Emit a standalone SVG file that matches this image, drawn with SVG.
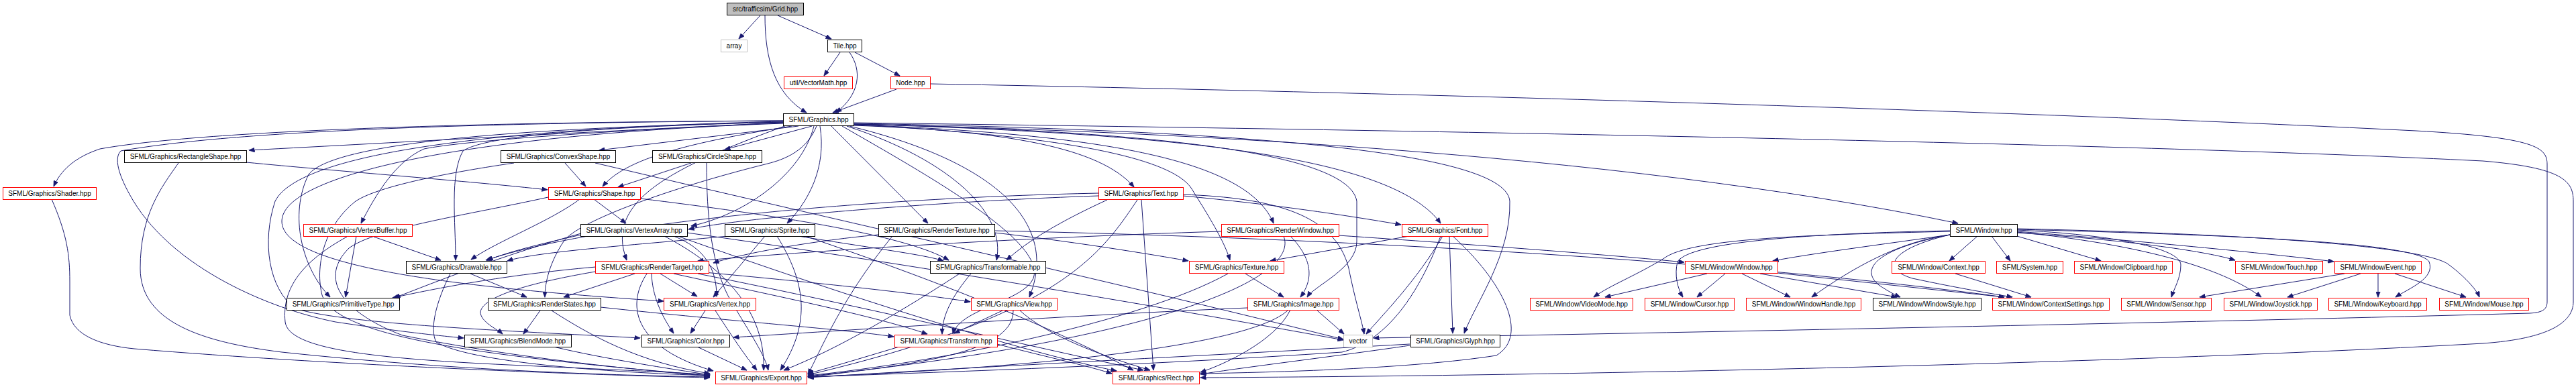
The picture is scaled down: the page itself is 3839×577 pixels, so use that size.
<svg xmlns="http://www.w3.org/2000/svg" width="3839" height="577" viewBox="0 0 3839 577">
<style>
.n rect{fill:#fff;stroke:#000;stroke-width:1}
.n.r rect{stroke:#ff0000}
.n.g rect{stroke:#bfbfbf}
.n.c rect{fill:#bfbfbf}
.n text{font-family:"Liberation Sans",Arial,sans-serif;font-size:10px;text-anchor:middle;fill:#000}
#edges path{fill:none;stroke:#191970;stroke-width:1;marker-end:url(#ah)}
</style>
<defs>
<marker id="ah" markerWidth="9" markerHeight="7" refX="8.5" refY="3.5" orient="auto" markerUnits="userSpaceOnUse"><path d="M0,0 L9,3.5 L0,7 z" fill="#191970" stroke="#191970" stroke-width="0.5"/></marker>
</defs>
<rect width="3839" height="577" fill="#fff"/>
<g id="edges">
<path d="M1133,23 L1101,58"/>
<path d="M1140,23 C1140,90 1155,140 1202,168"/>
<path d="M1159,23 L1239,58"/>
<path d="M1252,78 L1228,113"/>
<path d="M1266,78 C1285,105 1282,140 1246,168"/>
<path d="M1274,78 L1341,113"/>
<path d="M1336,133 L1241,168"/>
<path d="M1386,125 C2200,140 3100,170 3600,195 C3780,205 3796,220 3796,245 L3796,450 C3796,462 3788,466 3770,467 C3300,480 2600,494 2047,504"/>
<path d="M1272,183 C2200,195 3200,215 3700,240 C3820,250 3835,270 3835,300 L3835,450 C3835,480 3800,505 3700,512 C3200,540 2400,560 1789,563"/>
<path d="M1272,185 C1700,195 2400,225 2918,333"/>
<path d="M1272,187 C1500,195 1640,220 1690,279"/>
<path d="M1272,186 C1550,200 1740,230 1775,280 C1800,320 1825,360 1833,388"/>
<path d="M1272,186 C1650,200 1860,240 1898,333"/>
<path d="M1272,185 C1700,195 2010,225 2022,300 L2022,360 C2022,400 1960,425 1948,443"/>
<path d="M1272,185 C1800,200 2080,240 2147,333"/>
<path d="M1272,184 C1900,195 2245,230 2250,300 C2252,380 2200,450 2182,497"/>
<path d="M1238,187 L1383,333"/>
<path d="M1262,188 C1420,240 1500,320 1485,388"/>
<path d="M1266,188 C1480,240 1580,330 1534,443"/>
<path d="M1255,188 C1380,260 1560,360 1540,415 C1525,450 1430,460 1420,498"/>
<path d="M1222,188 C1232,250 1205,300 1173,333"/>
<path d="M1213,188 C1195,260 1110,320 1030,337"/>
<path d="M1210,188 L1080,223"/>
<path d="M1190,188 L893,224"/>
<path d="M1180,188 C1010,215 930,240 898,278"/>
<path d="M1167,183 C900,195 600,212 371,224"/>
<path d="M1167,180 C700,182 300,195 149,222 C110,235 90,255 80,278"/>
<path d="M1167,183 C900,195 690,210 632,222 C590,240 560,290 538,333"/>
<path d="M1167,182 C850,190 720,205 690,225 C670,260 679,330 679,388"/>
<path d="M1167,182 C800,190 500,210 460,260 C430,320 450,400 492,443"/>
<path d="M1217,188 C1200,230 1160,240 1140,245 C1000,280 860,330 840,360 C820,390 812,420 812,443"/>
<path d="M1167,180 C700,183 350,195 180,225 C170,235 175,260 199,300 C260,400 400,460 500,480 C600,495 650,500 691,504"/>
<path d="M1167,181 C800,190 450,220 410,300 C390,360 400,430 440,460 C520,485 800,495 954,504"/>
<path d="M1172,187 C1000,250 900,300 934,388"/>
<path d="M1167,184 C700,200 420,260 420,330 C420,400 700,430 989,449"/>
<path d="M367,242 C500,255 700,270 816,283"/>
<path d="M266,243 C240,280 209,320 209,400 C209,480 300,510 420,525 C700,555 950,560 1058,562"/>
<path d="M842,243 L873,278"/>
<path d="M766,243 C650,260 560,280 530,300 C480,340 470,400 480,440 C500,500 700,530 1058,560"/>
<path d="M887,243 C1300,340 1700,430 2002,506"/>
<path d="M1030,243 L921,279"/>
<path d="M1053,243 C1053,320 1060,400 1090,450 C1120,500 1140,530 1145,552"/>
<path d="M864,297 C820,330 740,360 702,387"/>
<path d="M954,296 C1150,320 1350,350 1414,388"/>
<path d="M885,297 L933,333"/>
<path d="M817,294 C700,320 560,340 520,370 C470,420 520,470 600,500 C800,540 1000,555 1058,561"/>
<path d="M77,297 C100,350 104,380 104,420 L104,470 C110,500 150,515 200,520 C500,545 900,560 1058,563"/>
<path d="M557,353 L657,388"/>
<path d="M531,352 L515,443"/>
<path d="M517,353 C450,390 420,430 425,480 C430,520 550,535 780,545 C950,553 1030,556 1058,559"/>
<path d="M701,408 L785,443"/>
<path d="M671,408 C650,450 640,490 650,510 C700,540 900,555 1058,560"/>
<path d="M805,463 L780,498"/>
<path d="M895,458 C1100,480 1250,490 1332,502"/>
<path d="M822,463 C880,500 950,540 1058,557"/>
<path d="M825,517 C900,535 1000,550 1058,559"/>
<path d="M1004,352 C1050,370 1068,400 1068,442"/>
<path d="M866,348 C750,380 650,420 588,444"/>
<path d="M1010,352 C1200,420 1500,520 1664,553"/>
<path d="M990,352 C1120,420 1140,500 1138,552"/>
<path d="M866,350 C800,365 760,375 726,388"/>
<path d="M1024,347 C1400,400 1800,470 2002,507"/>
<path d="M1085,352 C950,365 800,375 756,389"/>
<path d="M1190,352 C1300,370 1380,380 1406,389"/>
<path d="M1140,352 L1063,443"/>
<path d="M1200,352 C1400,420 1550,480 1689,552"/>
<path d="M1158,352 C1200,420 1210,480 1163,552"/>
<path d="M1309,350 C1200,360 1100,380 1063,392"/>
<path d="M1482,347 C1600,360 1720,380 1771,389"/>
<path d="M1482,344 C2000,355 2600,390 2987,443"/>
<path d="M1330,352 C1250,450 1220,530 1204,558"/>
<path d="M1050,406 C1200,420 1350,435 1446,450"/>
<path d="M1004,408 C1150,440 1300,470 1382,498"/>
<path d="M1040,408 C1300,460 1550,520 1704,552"/>
<path d="M964,408 C930,460 950,520 1063,553"/>
<path d="M984,408 L1039,442"/>
<path d="M971,408 C972,440 985,470 1004,497"/>
<path d="M946,408 L840,443"/>
<path d="M888,398 C750,410 650,430 585,444"/>
<path d="M887,405 C800,420 720,440 716,465 C716,480 740,490 749,498"/>
<path d="M1447,408 C1420,440 1404,470 1404,498"/>
<path d="M1430,408 C1350,460 1250,520 1168,552"/>
<path d="M1494,463 L1422,497"/>
<path d="M1520,463 C1560,500 1640,530 1714,552"/>
<path d="M1510,463 C1510,520 1400,540 1204,562"/>
<path d="M1051,463 L1029,497"/>
<path d="M1066,463 C1090,500 1110,530 1128,552"/>
<path d="M1039,517 L1113,552"/>
<path d="M1486,513 C1550,530 1620,545 1657,557"/>
<path d="M1340,517 C1280,535 1230,550 1204,557"/>
<path d="M1763,292 C1900,305 2000,320 2088,335"/>
<path d="M1763,290 C1900,295 1990,320 2010,400 C2020,450 2030,480 2033,498"/>
<path d="M1701,298 L1719,552"/>
<path d="M1695,298 C1640,380 1580,470 1204,559"/>
<path d="M1637,292 C1400,300 1100,325 1026,342"/>
<path d="M1637,288 C1300,295 900,330 724,388"/>
<path d="M1650,298 C1580,330 1530,360 1500,388"/>
<path d="M1820,345 C1500,355 1200,375 1040,389"/>
<path d="M1923,352 C1960,390 1955,420 1938,443"/>
<path d="M1913,352 C1940,420 1700,510 1204,561"/>
<path d="M1995,351 C2200,365 2400,380 2510,391"/>
<path d="M2160,352 L2165,497"/>
<path d="M2100,352 L1893,389"/>
<path d="M2150,352 C2110,420 2060,470 2036,498"/>
<path d="M2165,352 C2240,420 2280,500 2230,530 C2100,550 1900,555 1789,557"/>
<path d="M2147,352 C2110,450 2060,510 2000,525 C1700,545 1400,555 1204,562"/>
<path d="M1856,408 L1913,443"/>
<path d="M1830,408 C1700,480 1400,540 1204,560"/>
<path d="M1962,462 L2003,498"/>
<path d="M1923,462 C1900,510 1820,545 1789,555"/>
<path d="M1859,459 C1600,470 1300,490 1093,503"/>
<path d="M1920,462 C1860,520 1500,550 1204,562"/>
<path d="M2101,515 C2000,530 1850,548 1789,558"/>
<path d="M2101,513 C1800,530 1400,550 1204,563"/>
<path d="M2968,352 L2996,389"/>
<path d="M2947,352 L2905,389"/>
<path d="M2906,350 C2800,365 2700,378 2642,389"/>
<path d="M2906,345 C2700,350 2520,355 2480,385 C2440,410 2400,425 2375,443"/>
<path d="M2906,344 C2700,348 2520,360 2500,390 C2495,410 2500,430 2508,443"/>
<path d="M2906,350 C2830,360 2760,400 2700,443"/>
<path d="M2906,350 C2800,370 2770,400 2800,425 C2815,435 2825,440 2832,443"/>
<path d="M2906,350 C2820,370 2800,400 2850,415 C2920,430 2970,438 2999,443"/>
<path d="M3006,352 L3131,389"/>
<path d="M3006,347 C3200,360 3300,378 3331,388"/>
<path d="M3006,345 C3200,360 3400,380 3478,390"/>
<path d="M3006,343 C3150,350 3250,370 3250,395 C3250,415 3240,430 3236,443"/>
<path d="M3006,346 C3150,360 3300,390 3370,443"/>
<path d="M3006,342 C3300,350 3600,360 3620,390 C3630,415 3590,430 3570,443"/>
<path d="M3006,341 C3400,350 3620,370 3650,395 C3670,410 3690,430 3695,443"/>
<path d="M2544,408 L2392,443"/>
<path d="M2571,408 L2529,443"/>
<path d="M2596,408 L2668,443"/>
<path d="M2623,408 L2827,443"/>
<path d="M2649,407 L2987,443"/>
<path d="M2914,408 L3027,443"/>
<path d="M3494,408 L3278,443"/>
<path d="M3518,408 L3409,443"/>
<path d="M3544,408 L3544,443"/>
<path d="M3569,408 L3675,443"/>
</g>
<g id="n-grid" class="n c"><rect x="1083.5" y="4.5" width="114" height="18"/><text x="1140.5" y="17">src/trafficsim/Grid.hpp</text></g>
<g id="n-array" class="n g"><rect x="1074.5" y="59.5" width="39" height="18"/><text x="1094" y="72">array</text></g>
<g id="n-tile" class="n"><rect x="1233.5" y="59.5" width="51" height="18"/><text x="1259" y="72">Tile.hpp</text></g>
<g id="n-vectormath" class="n r"><rect x="1168.5" y="114.5" width="102" height="18"/><text x="1219.5" y="127">util/VectorMath.hpp</text></g>
<g id="n-node" class="n r"><rect x="1327.5" y="114.5" width="59" height="18"/><text x="1357" y="127">Node.hpp</text></g>
<g id="n-graphics" class="n"><rect x="1167.5" y="169.5" width="105" height="18"/><text x="1220" y="182">SFML/Graphics.hpp</text></g>
<g id="n-rectangleshape" class="n"><rect x="185.5" y="224.5" width="182" height="18"/><text x="276.5" y="237">SFML/Graphics/RectangleShape.hpp</text></g>
<g id="n-convexshape" class="n"><rect x="746.5" y="224.5" width="171" height="18"/><text x="832" y="237">SFML/Graphics/ConvexShape.hpp</text></g>
<g id="n-circleshape" class="n"><rect x="972.5" y="224.5" width="163" height="18"/><text x="1054" y="237">SFML/Graphics/CircleShape.hpp</text></g>
<g id="n-shader" class="n r"><rect x="4.5" y="279.5" width="139" height="18"/><text x="74" y="292">SFML/Graphics/Shader.hpp</text></g>
<g id="n-shape" class="n r"><rect x="817.5" y="279.5" width="137" height="18"/><text x="886" y="292">SFML/Graphics/Shape.hpp</text></g>
<g id="n-text" class="n r"><rect x="1637.5" y="279.5" width="126" height="18"/><text x="1700.5" y="292">SFML/Graphics/Text.hpp</text></g>
<g id="n-vertexbuffer" class="n r"><rect x="452.5" y="334.5" width="162" height="18"/><text x="533.5" y="347">SFML/Graphics/VertexBuffer.hpp</text></g>
<g id="n-vertexarray" class="n"><rect x="865.5" y="334.5" width="159" height="18"/><text x="945" y="347">SFML/Graphics/VertexArray.hpp</text></g>
<g id="n-sprite" class="n"><rect x="1080.5" y="334.5" width="134" height="18"/><text x="1147.5" y="347">SFML/Graphics/Sprite.hpp</text></g>
<g id="n-rendertexture" class="n"><rect x="1309.5" y="334.5" width="173" height="18"/><text x="1396" y="347">SFML/Graphics/RenderTexture.hpp</text></g>
<g id="n-renderwindow" class="n r"><rect x="1820.5" y="334.5" width="175" height="18"/><text x="1908" y="347">SFML/Graphics/RenderWindow.hpp</text></g>
<g id="n-font" class="n r"><rect x="2089.5" y="334.5" width="128" height="18"/><text x="2153.5" y="347">SFML/Graphics/Font.hpp</text></g>
<g id="n-window" class="n"><rect x="2906.5" y="334.5" width="100" height="18"/><text x="2956.5" y="347">SFML/Window.hpp</text></g>
<g id="n-drawable" class="n"><rect x="605.5" y="389.5" width="150" height="18"/><text x="680.5" y="402">SFML/Graphics/Drawable.hpp</text></g>
<g id="n-rendertarget" class="n r"><rect x="887.5" y="389.5" width="169" height="18"/><text x="972" y="402">SFML/Graphics/RenderTarget.hpp</text></g>
<g id="n-transformable" class="n"><rect x="1386.5" y="389.5" width="172" height="18"/><text x="1472.5" y="402">SFML/Graphics/Transformable.hpp</text></g>
<g id="n-texture" class="n r"><rect x="1772.5" y="389.5" width="141" height="18"/><text x="1843" y="402">SFML/Graphics/Texture.hpp</text></g>
<g id="n-wwindow" class="n r"><rect x="2511.5" y="389.5" width="138" height="18"/><text x="2580.5" y="402">SFML/Window/Window.hpp</text></g>
<g id="n-context" class="n r"><rect x="2819.5" y="389.5" width="139" height="18"/><text x="2889" y="402">SFML/Window/Context.hpp</text></g>
<g id="n-system" class="n r"><rect x="2975.5" y="389.5" width="99" height="18"/><text x="3025" y="402">SFML/System.hpp</text></g>
<g id="n-clipboard" class="n r"><rect x="3091.5" y="389.5" width="146" height="18"/><text x="3164.5" y="402">SFML/Window/Clipboard.hpp</text></g>
<g id="n-touch" class="n r"><rect x="3331.5" y="389.5" width="130" height="18"/><text x="3396.5" y="402">SFML/Window/Touch.hpp</text></g>
<g id="n-event" class="n r"><rect x="3479.5" y="389.5" width="129" height="18"/><text x="3544" y="402">SFML/Window/Event.hpp</text></g>
<g id="n-primitivetype" class="n"><rect x="427.5" y="444.5" width="168" height="18"/><text x="511.5" y="457">SFML/Graphics/PrimitiveType.hpp</text></g>
<g id="n-renderstates" class="n"><rect x="727.5" y="444.5" width="168" height="18"/><text x="811.5" y="457">SFML/Graphics/RenderStates.hpp</text></g>
<g id="n-vertex" class="n r"><rect x="989.5" y="444.5" width="137" height="18"/><text x="1058" y="457">SFML/Graphics/Vertex.hpp</text></g>
<g id="n-view" class="n r"><rect x="1447.5" y="444.5" width="128" height="18"/><text x="1511.5" y="457">SFML/Graphics/View.hpp</text></g>
<g id="n-image" class="n r"><rect x="1859.5" y="444.5" width="136" height="18"/><text x="1927.5" y="457">SFML/Graphics/Image.hpp</text></g>
<g id="n-videomode" class="n r"><rect x="2280.5" y="444.5" width="153" height="18"/><text x="2357" y="457">SFML/Window/VideoMode.hpp</text></g>
<g id="n-cursor" class="n r"><rect x="2451.5" y="444.5" width="133" height="18"/><text x="2518" y="457">SFML/Window/Cursor.hpp</text></g>
<g id="n-windowhandle" class="n r"><rect x="2602.5" y="444.5" width="171" height="18"/><text x="2688" y="457">SFML/Window/WindowHandle.hpp</text></g>
<g id="n-windowstyle" class="n"><rect x="2791.5" y="444.5" width="161" height="18"/><text x="2872" y="457">SFML/Window/WindowStyle.hpp</text></g>
<g id="n-contextsettings" class="n r"><rect x="2969.5" y="444.5" width="174" height="18"/><text x="3056.5" y="457">SFML/Window/ContextSettings.hpp</text></g>
<g id="n-sensor" class="n r"><rect x="3161.5" y="444.5" width="134" height="18"/><text x="3228.5" y="457">SFML/Window/Sensor.hpp</text></g>
<g id="n-joystick" class="n r"><rect x="3314.5" y="444.5" width="139" height="18"/><text x="3384" y="457">SFML/Window/Joystick.hpp</text></g>
<g id="n-keyboard" class="n r"><rect x="3470.5" y="444.5" width="146" height="18"/><text x="3543.5" y="457">SFML/Window/Keyboard.hpp</text></g>
<g id="n-mouse" class="n r"><rect x="3635.5" y="444.5" width="133" height="18"/><text x="3702" y="457">SFML/Window/Mouse.hpp</text></g>
<g id="n-blendmode" class="n"><rect x="692.5" y="499.5" width="159" height="18"/><text x="772" y="512">SFML/Graphics/BlendMode.hpp</text></g>
<g id="n-color" class="n"><rect x="956.5" y="499.5" width="131" height="18"/><text x="1022" y="512">SFML/Graphics/Color.hpp</text></g>
<g id="n-transform" class="n r"><rect x="1333.5" y="499.5" width="153" height="18"/><text x="1410" y="512">SFML/Graphics/Transform.hpp</text></g>
<g id="n-vector" class="n g"><rect x="2002.5" y="499.5" width="43" height="18"/><text x="2024" y="512">vector</text></g>
<g id="n-glyph" class="n"><rect x="2102.5" y="499.5" width="133" height="18"/><text x="2169" y="512">SFML/Graphics/Glyph.hpp</text></g>
<g id="n-export" class="n r"><rect x="1066.5" y="554.5" width="136" height="18"/><text x="1134.5" y="567">SFML/Graphics/Export.hpp</text></g>
<g id="n-rect" class="n r"><rect x="1658.5" y="554.5" width="129" height="18"/><text x="1723" y="567">SFML/Graphics/Rect.hpp</text></g>
</svg>
